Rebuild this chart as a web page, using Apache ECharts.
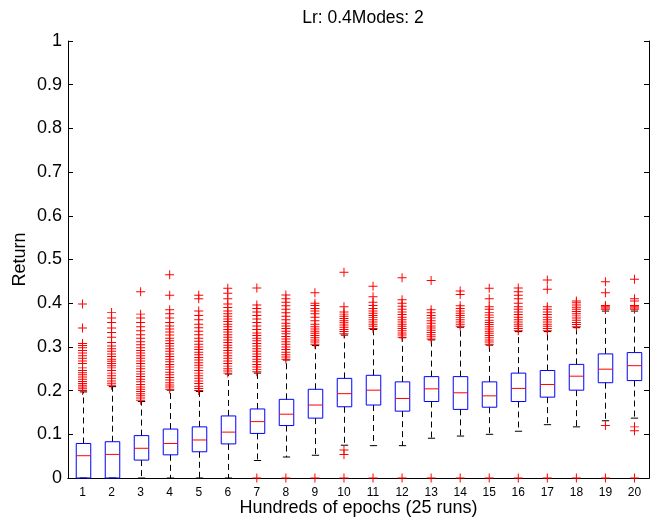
<!DOCTYPE html>
<html>
<head>
<meta charset="utf-8">
<script src="https://cdn.jsdelivr.net/npm/echarts@6/dist/echarts.min.js"></script>
<style>
  html, body { margin: 0; padding: 0; background: #fff; }
  #chart { width: 652px; height: 522px; }
</style>
</head>
<body>
<div id="chart"></div>
<script>
const categories = ['1', '2', '3', '4', '5', '6', '7', '8', '9', '10', '11', '12', '13', '14', '15', '16', '17', '18', '19', '20']
const yTicks = [0, 0.1, 0.2, 0.3, 0.4, 0.5, 0.6, 0.7, 0.8, 0.9, 1]

const whiskerLow = [0, 0, 0, 0, 0, 0, 0.040, 0.048, 0.052, 0.075, 0.074, 0.074, 0.091, 0.096, 0.100, 0.107, 0.122, 0.117, 0.131, 0.137]
const q1 = [0, 0, 0.041, 0.053, 0.060, 0.078, 0.102, 0.120, 0.137, 0.163, 0.167, 0.153, 0.175, 0.157, 0.162, 0.175, 0.185, 0.201, 0.218, 0.223]
const median = [0.051, 0.054, 0.068, 0.079, 0.087, 0.105, 0.129, 0.146, 0.167, 0.193, 0.201, 0.182, 0.204, 0.195, 0.188, 0.205, 0.214, 0.233, 0.249, 0.257]
const q3 = [0.079, 0.083, 0.097, 0.112, 0.117, 0.142, 0.158, 0.180, 0.203, 0.228, 0.235, 0.220, 0.232, 0.232, 0.220, 0.240, 0.246, 0.260, 0.284, 0.287]
const whiskerHigh = [0.197, 0.209, 0.175, 0.201, 0.198, 0.238, 0.240, 0.270, 0.303, 0.327, 0.340, 0.321, 0.316, 0.345, 0.304, 0.335, 0.335, 0.344, 0.382, 0.382]

// outliers per epoch group
const outliers = [
  [0.200, 0.204, 0.208, 0.212, 0.216, 0.221, 0.226, 0.231, 0.236, 0.241, 0.246, 0.252, 0.262, 0.268, 0.274, 0.280, 0.286, 0.292, 0.298, 0.303, 0.308, 0.343, 0.398],
  [0.212, 0.217, 0.222, 0.228, 0.234, 0.240, 0.246, 0.252, 0.257, 0.262, 0.267, 0.272, 0.278, 0.284, 0.290, 0.296, 0.302, 0.310, 0.322, 0.333, 0.343, 0.356, 0.366, 0.379],
  [0.178, 0.183, 0.188, 0.193, 0.198, 0.203, 0.208, 0.214, 0.220, 0.226, 0.232, 0.238, 0.244, 0.250, 0.256, 0.262, 0.268, 0.274, 0.280, 0.286, 0.292, 0.298, 0.305, 0.312, 0.320, 0.328, 0.337, 0.346, 0.356, 0.366, 0.375, 0.426],
  [0.203, 0.208, 0.213, 0.218, 0.224, 0.230, 0.236, 0.242, 0.248, 0.254, 0.260, 0.266, 0.272, 0.278, 0.284, 0.290, 0.296, 0.302, 0.308, 0.314, 0.320, 0.327, 0.334, 0.341, 0.348, 0.356, 0.366, 0.376, 0.385, 0.418, 0.465],
  [0.200, 0.205, 0.210, 0.216, 0.222, 0.228, 0.234, 0.240, 0.246, 0.252, 0.258, 0.264, 0.270, 0.276, 0.282, 0.288, 0.294, 0.300, 0.306, 0.313, 0.320, 0.328, 0.336, 0.344, 0.352, 0.362, 0.372, 0.382, 0.410, 0.418],
  [0.240, 0.245, 0.250, 0.256, 0.262, 0.268, 0.274, 0.280, 0.286, 0.292, 0.298, 0.304, 0.310, 0.316, 0.322, 0.328, 0.334, 0.340, 0.346, 0.352, 0.358, 0.364, 0.370, 0.376, 0.382, 0.390, 0.398, 0.410, 0.423, 0.434],
  [0, 0.243, 0.248, 0.254, 0.260, 0.266, 0.272, 0.278, 0.284, 0.290, 0.296, 0.302, 0.308, 0.314, 0.320, 0.326, 0.332, 0.340, 0.348, 0.356, 0.364, 0.372, 0.380, 0.388, 0.396, 0.435],
  [0, 0.272, 0.277, 0.282, 0.288, 0.294, 0.300, 0.306, 0.312, 0.318, 0.324, 0.330, 0.336, 0.342, 0.348, 0.354, 0.362, 0.370, 0.378, 0.386, 0.394, 0.402, 0.410, 0.419],
  [0, 0.306, 0.311, 0.316, 0.321, 0.326, 0.331, 0.336, 0.341, 0.346, 0.352, 0.360, 0.368, 0.376, 0.382, 0.388, 0.395, 0.400, 0.424],
  [0, 0.054, 0.064, 0.330, 0.335, 0.340, 0.345, 0.350, 0.355, 0.360, 0.365, 0.370, 0.375, 0.380, 0.392, 0.471],
  [0, 0.342, 0.347, 0.352, 0.357, 0.362, 0.367, 0.372, 0.377, 0.382, 0.388, 0.395, 0.402, 0.415, 0.439],
  [0, 0.322, 0.327, 0.332, 0.337, 0.342, 0.347, 0.352, 0.357, 0.362, 0.368, 0.374, 0.380, 0.386, 0.393, 0.400, 0.408, 0.458],
  [0, 0.318, 0.323, 0.328, 0.333, 0.338, 0.343, 0.348, 0.354, 0.360, 0.366, 0.372, 0.378, 0.385, 0.452],
  [0, 0.347, 0.352, 0.357, 0.362, 0.367, 0.372, 0.377, 0.382, 0.388, 0.394, 0.420, 0.428],
  [0, 0.306, 0.311, 0.316, 0.321, 0.326, 0.331, 0.336, 0.341, 0.346, 0.351, 0.356, 0.361, 0.367, 0.373, 0.379, 0.386, 0.392, 0.410, 0.434],
  [0, 0.337, 0.342, 0.347, 0.352, 0.357, 0.362, 0.368, 0.374, 0.380, 0.386, 0.392, 0.400, 0.410, 0.418, 0.426, 0.435],
  [0, 0.337, 0.342, 0.347, 0.352, 0.357, 0.362, 0.368, 0.374, 0.380, 0.386, 0.392, 0.432, 0.453],
  [0, 0.346, 0.351, 0.356, 0.361, 0.366, 0.371, 0.376, 0.381, 0.386, 0.391, 0.396, 0.401, 0.405],
  [0, 0.120, 0.386, 0.389, 0.392, 0.395, 0.424, 0.449],
  [0, 0.108, 0.117, 0.386, 0.389, 0.392, 0.395, 0.405, 0.410, 0.455]
]

const FONT = 'Liberation Sans, Arial, sans-serif'
const PLUS = 'path://M0,4.45H10V5.55H0Z M4.45,0H5.55V10H4.45Z'

const boxData = categories.map((c, i) => [i, whiskerLow[i], q1[i], median[i], q3[i], whiskerHigh[i]])
const outlierData = []
outliers.forEach((vals, i) => vals.forEach((v) => outlierData.push([i, v])))

function renderBox(params, api) {
  const i = api.value(0)
  const band = api.size([1, 0])[0]
  const w = band * 0.5
  const cw = band * 0.25
  const pLow = api.coord([i, api.value(1)])
  const pQ1 = api.coord([i, api.value(2)])
  const pMed = api.coord([i, api.value(3)])
  const pQ3 = api.coord([i, api.value(4)])
  const pHigh = api.coord([i, api.value(5)])
  const x = Math.round(pMed[0]) + 0.5
  const dash = { stroke: '#000', lineWidth: 1, lineDash: [6, 4] }
  const solid = { stroke: '#000', lineWidth: 1 }
  return {
    type: 'group',
    children: [
      { type: 'line', shape: { x1: x, y1: pQ3[1], x2: x, y2: pHigh[1] }, style: dash },
      { type: 'line', shape: { x1: x, y1: pQ1[1], x2: x, y2: pLow[1] }, style: dash },
      { type: 'line', shape: { x1: x - cw / 2, y1: pHigh[1], x2: x + cw / 2, y2: pHigh[1] }, style: solid },
      { type: 'line', shape: { x1: x - cw / 2, y1: pLow[1], x2: x + cw / 2, y2: pLow[1] }, style: solid },
      {
        type: 'rect',
        shape: { x: x - w / 2, y: pQ3[1], width: w, height: pQ1[1] - pQ3[1] },
        style: { fill: 'none', stroke: '#0000ff', lineWidth: 1 }
      },
      { type: 'line', shape: { x1: x - w / 2, y1: pMed[1], x2: x + w / 2, y2: pMed[1] }, style: { stroke: '#ff0000', lineWidth: 1 } }
    ]
  }
}

const chart = echarts.init(document.getElementById('chart'), null, { renderer: 'canvas' })
chart.setOption({
  animation: false,
  backgroundColor: '#fff',
  textStyle: { fontFamily: FONT },
  title: {
    text: 'Lr: 0.4Modes: 2',
    left: 358,
    top: 4,
    textAlign: 'center',
    textStyle: { fontFamily: FONT, fontSize: 17.5, fontWeight: 'normal', color: '#000' }
  },
  grid: { left: 68, right: 3, top: 41, bottom: 44, containLabel: false, outerBoundsMode: 'none' },
  xAxis: [
    {
      type: 'category',
      data: categories,
      boundaryGap: true,
      name: 'Hundreds of epochs (25 runs)',
      nameLocation: 'middle',
      nameGap: 21,
      nameMoveOverlap: false,
      nameTextStyle: { fontFamily: FONT, fontSize: 18, color: '#000' },
      axisLine: { lineStyle: { color: '#000', width: 1 } },
      axisTick: { show: false },
      axisLabel: { color: '#000', fontSize: 12, margin: 9, interval: 0, fontFamily: FONT },
      splitLine: { show: false }
    },
    {
      type: 'category',
      data: categories,
      position: 'top',
      axisLine: { lineStyle: { color: '#000', width: 1 } },
      axisTick: { show: false },
      axisLabel: { show: false }
    }
  ],
  yAxis: [
    {
      type: 'value',
      min: yTicks[0],
      max: yTicks[yTicks.length - 1],
      interval: 0.1,
      name: 'Return',
      nameLocation: 'middle',
      nameGap: 39,
      nameMoveOverlap: false,
      nameTextStyle: { fontFamily: FONT, fontSize: 18, color: '#000' },
      axisLine: { show: true, lineStyle: { color: '#000', width: 1 } },
      axisTick: { show: true, inside: true, length: 5, lineStyle: { color: '#000' } },
      axisLabel: { color: '#000', fontSize: 18, margin: 6, fontFamily: FONT },
      splitLine: { show: false }
    },
    {
      type: 'value',
      min: yTicks[0],
      max: yTicks[yTicks.length - 1],
      interval: 0.1,
      position: 'right',
      axisLine: { show: true, lineStyle: { color: '#000', width: 1 } },
      axisTick: { show: true, inside: true, length: 5, lineStyle: { color: '#000' } },
      axisLabel: { show: false },
      splitLine: { show: false }
    }
  ],
  series: [
    {
      type: 'custom',
      renderItem: renderBox,
      data: boxData,
      encode: { x: 0, y: [1, 2, 3, 4, 5] },
      z: 2
    },
    {
      type: 'scatter',
      data: outlierData,
      symbol: PLUS,
      symbolSize: 9,
      itemStyle: { color: '#ff0000', opacity: 1 },
      z: 3
    }
  ]
})
</script>
</body>
</html>
